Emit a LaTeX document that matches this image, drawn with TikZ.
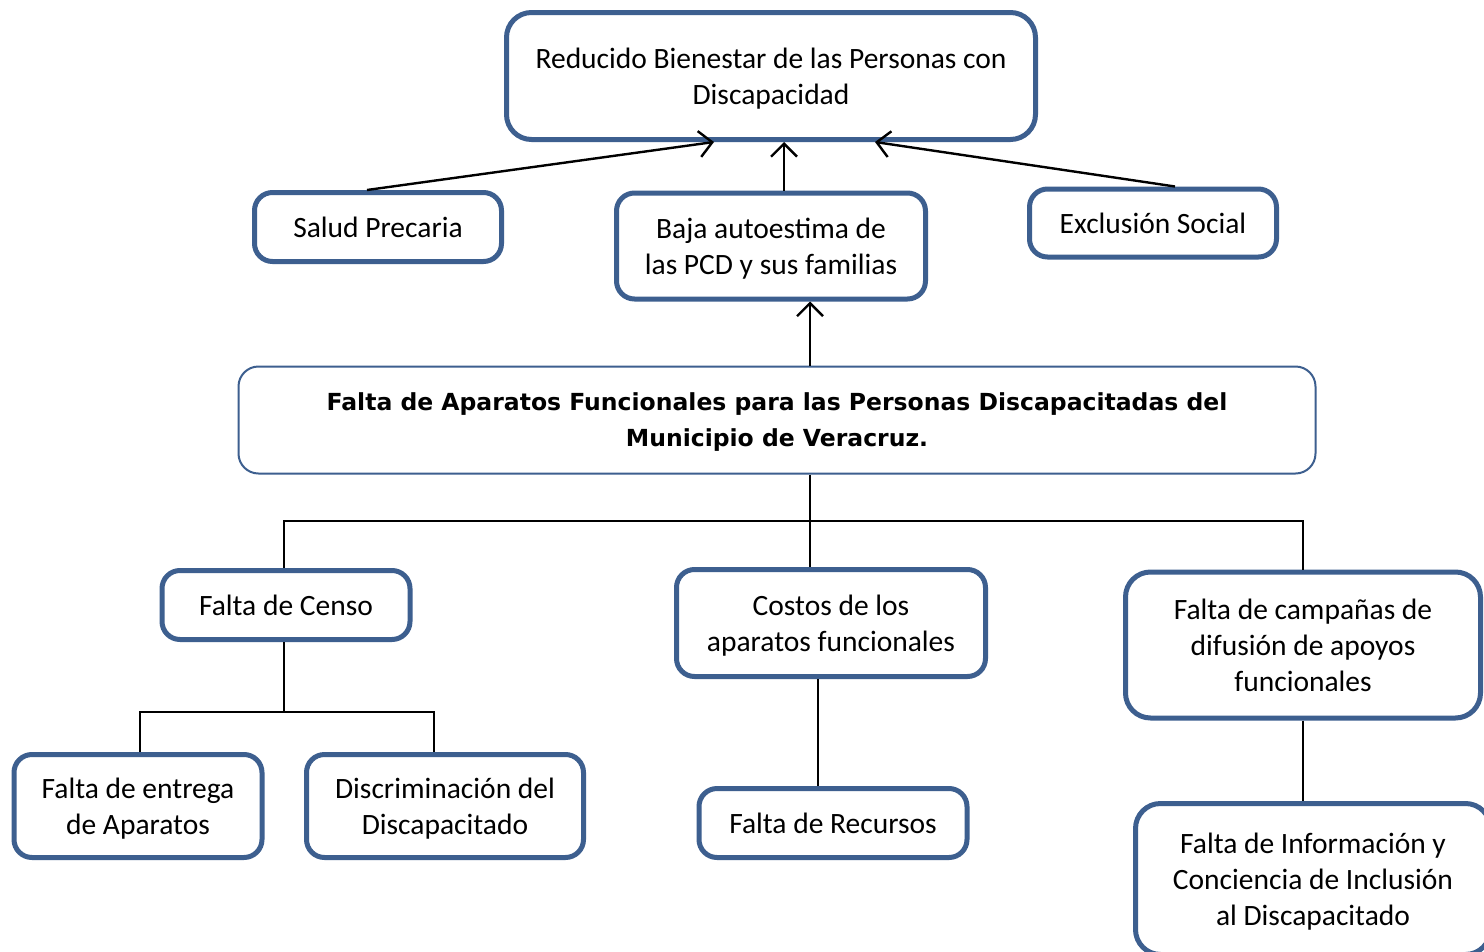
\documentclass[tikz,border=0pt]{standalone}
\usepackage{fontspec}
\setmainfont{Carlito}
\newfontfamily\cfont{DejaVu Sans}
\usetikzlibrary{arrows.meta,calc}
\definecolor{bord}{HTML}{3D5F8F}
\tikzset{
  box/.style={draw=bord, line width=5pt, rounded corners=18pt, fill=white, align=center,
    font=\fontsize{29.5}{36}\selectfont, inner sep=0pt},
  cbox/.style={draw=bord, line width=2pt, rounded corners=20pt, fill=white, align=center,
    font=\cfont\bfseries\fontsize{23.5}{36}\selectfont, inner sep=0pt, text depth=0pt},
  low/.style={text depth=0pt},
  arr/.style={line width=2.4pt, -{Straight Barb[length=13pt,width=26pt,line width=2.4pt]}},
  tree/.style={line width=1.3pt}
}
\begin{document}
\begin{tikzpicture}[x=1pt,y=-1pt]
\useasboundingbox (0,0) rectangle (1484,951);
\clip (0,0) rectangle (1484,951);
\fill[white] (0,0) rectangle (1484,951);
% nodes
\node[box, low, minimum width=529pt, minimum height=127pt, rounded corners=25pt] (red) at (771,76) {Reducido Bienestar de las Personas con\\Discapacidad};
\node[box, minimum width=247pt, minimum height=69pt] (salud) at (378,227) {Salud Precaria};
\node[box, low, minimum width=309pt, minimum height=106pt] (baja) at (771,246) {Baja autoestima de\\las PCD y sus familias};
\node[box, minimum width=247pt, minimum height=68pt] (excl) at (1153,223) {Exclusión Social};
\node[cbox, minimum width=1077pt, minimum height=107pt] (central) at (777,420) {Falta de Aparatos Funcionales para las Personas Discapacitadas del\\Municipio de Veracruz.};
\node[box, minimum width=248pt, minimum height=69pt] (censo) at (286,605) {Falta de Censo};
\node[box, low, minimum width=309pt, minimum height=107pt] (costos) at (831,623) {Costos de los\\aparatos funcionales};
\node[box, minimum width=355pt, minimum height=146pt, rounded corners=25pt] (camp) at (1303,645) {Falta de campañas de\\difusión de apoyos\\funcionales};
\node[box, low, minimum width=248pt, minimum height=103pt] (entrega) at (138,806) {Falta de entrega\\de Aparatos};
\node[box, low, minimum width=277pt, minimum height=103pt] (discr) at (445,806) {Discriminación del\\Discapacitado};
\node[box, minimum width=268pt, minimum height=69pt] (recursos) at (833,823) {Falta de Recursos};
\node[box, low, minimum width=355pt, minimum height=151pt, rounded corners=25pt] (info) at (1313,879) {Falta de Información y\\Conciencia de Inclusión\\al Discapacitado};
% arrows
\draw[arr] ([xshift=-11pt]salud.north) -- ([xshift=-57pt]red.south);
\draw[arr] ([xshift=13pt]baja.north) -- ([xshift=13pt]red.south);
\draw[arr] ([xshift=22pt]excl.north) -- ([xshift=104pt]red.south);
\draw[arr] ([xshift=33pt]central.north) -- ([xshift=39pt]baja.south);
% tree
\coordinate (h1) at (0,521);
\coordinate (h2) at (0,712);
\draw[tree] ([xshift=33pt]central.south) -- ([xshift=33pt]central.south |- h1);
\draw[tree] ([xshift=-2pt]censo.north) -- ([xshift=-2pt]censo.north |- h1) -- (camp.north |- h1) -- (camp.north);
\draw[tree] ([xshift=-21pt]costos.north) -- ([xshift=-21pt]costos.north |- h1);
\draw[tree] ([xshift=-2pt]censo.south) -- ([xshift=-2pt]censo.south |- h2);
\draw[tree] ([xshift=2pt]entrega.north) -- ([xshift=2pt]entrega.north |- h2) -- ([xshift=-11pt]discr.north |- h2) -- ([xshift=-11pt]discr.north);
\draw[tree] ([xshift=-13pt]costos.south) -- ([xshift=-13pt]costos.south |- recursos.north);
\draw[tree] (camp.south) -- (camp.south |- info.north);
\end{tikzpicture}
\end{document}
